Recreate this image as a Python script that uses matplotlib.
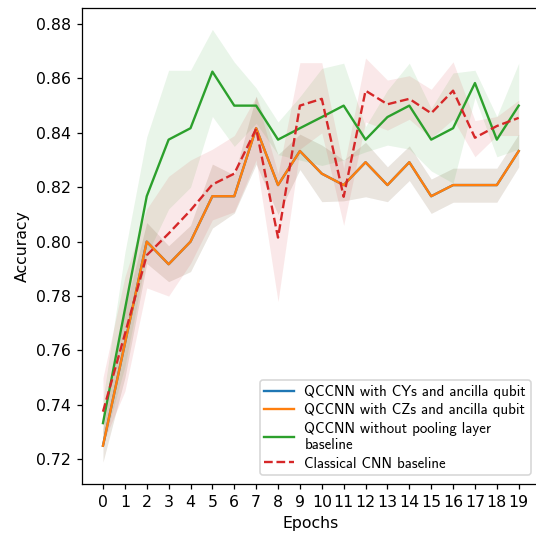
import numpy as np
import matplotlib
matplotlib.use("Agg")
import matplotlib.pyplot as plt

epochs = list(range(20))

# QCCNN with CYs / CZs and ancilla qubit (identical curves)
cz_mean = [0.7250, 0.7625, 0.8000, 0.7917, 0.8000, 0.8167, 0.8167, 0.8417, 0.8208, 0.8333,
           0.8250, 0.8208, 0.8292, 0.8208, 0.8292, 0.8167, 0.8208, 0.8208, 0.8208, 0.8333]
cz_low = [0.7190, 0.7500, 0.7920, 0.7853, 0.7890, 0.8050, 0.8105, 0.8285, 0.8100, 0.8265,
          0.8147, 0.8150, 0.8165, 0.8147, 0.8225, 0.8104, 0.8145, 0.8145, 0.8145, 0.8275]
cz_high = [0.7310, 0.7750, 0.8070, 0.7985, 0.8060, 0.8285, 0.8245, 0.8535, 0.8320, 0.8395,
           0.8355, 0.8300, 0.8365, 0.8275, 0.8352, 0.8230, 0.8270, 0.8270, 0.8270, 0.8395]
cy_mean = cz_mean
cy_low = cz_low
cy_high = cz_high

# QCCNN without pooling layer baseline
np_mean = [0.7333, 0.7750, 0.8167, 0.8375, 0.8417, 0.8625, 0.8500, 0.8500, 0.8375, 0.8417,
           0.8458, 0.8500, 0.8375, 0.8458, 0.8500, 0.8375, 0.8417, 0.8583, 0.8375, 0.8500]
np_low = [0.7250, 0.7540, 0.7950, 0.8120, 0.8200, 0.8460, 0.8350, 0.8435, 0.8320, 0.8300,
          0.8280, 0.8300, 0.8330, 0.8355, 0.8340, 0.8260, 0.8215, 0.8530, 0.8312, 0.8340]
np_high = [0.7420, 0.7960, 0.8385, 0.8630, 0.8630, 0.8780, 0.8660, 0.8565, 0.8440, 0.8533,
           0.8637, 0.8656, 0.8423, 0.8557, 0.8656, 0.8490, 0.8620, 0.8630, 0.8460, 0.8656]

# Classical CNN baseline
cnn_mean = [0.7375, 0.7660, 0.7950, 0.8030, 0.8115, 0.8210, 0.8250, 0.8415, 0.8015, 0.8500,
            0.8525, 0.8165, 0.8555, 0.8505, 0.8525, 0.8472, 0.8555, 0.8382, 0.8425, 0.8455]
cnn_low = [0.7260, 0.7450, 0.7830, 0.7800, 0.7920, 0.8080, 0.8110, 0.8300, 0.7780, 0.8340,
           0.8400, 0.8060, 0.8440, 0.8410, 0.8450, 0.8380, 0.8450, 0.8312, 0.8390, 0.8390]
cnn_high = [0.7500, 0.7870, 0.8120, 0.8240, 0.8300, 0.8340, 0.8390, 0.8533, 0.8250, 0.8658,
            0.8658, 0.8270, 0.8675, 0.8594, 0.8610, 0.8560, 0.8661, 0.8445, 0.8460, 0.8520]

labels = ["QCCNN with CYs and ancilla qubit",
          "QCCNN with CZs and ancilla qubit",
          "QCCNN without pooling layer\nbaseline",
          "Classical CNN baseline"]

DPI = 113
fig = plt.figure(figsize=(536 / DPI, 535 / DPI), dpi=DPI)
ax = fig.add_axes([82.2 / 536, 51 / 535, 457.3 / 536, 476.5 / 535])

series = [
    (cy_mean, cy_low, cy_high, "tab:blue", "-"),
    (cz_mean, cz_low, cz_high, "tab:orange", "-"),
    (np_mean, np_low, np_high, "tab:green", "-"),
    (cnn_mean, cnn_low, cnn_high, "tab:red", "--"),
]
for (m, lo, hi, c, ls), lab in zip(series, labels):
    ax.plot(epochs, m, color=c, linestyle=ls, label=lab, linewidth=1.5)
    ax.fill_between(epochs, lo, hi, color=c, alpha=0.1, linewidth=0)

ax.set_xlim(-0.95, 19.95)
ax.set_ylim(0.71092, 0.88607)
ax.set_xticks(epochs)
ax.set_xticklabels([str(e) for e in epochs])
ax.set_yticks([0.72, 0.74, 0.76, 0.78, 0.80, 0.82, 0.84, 0.86, 0.88])
ax.set_xlabel("Epochs")
ax.set_ylabel("Accuracy")
ax.legend(loc="lower right", prop={"family": "cmss10", "size": 9.5},
          labelspacing=0.3, borderpad=0.3, handletextpad=0.7, borderaxespad=0.6)

fig.savefig("out.png", dpi=DPI)
